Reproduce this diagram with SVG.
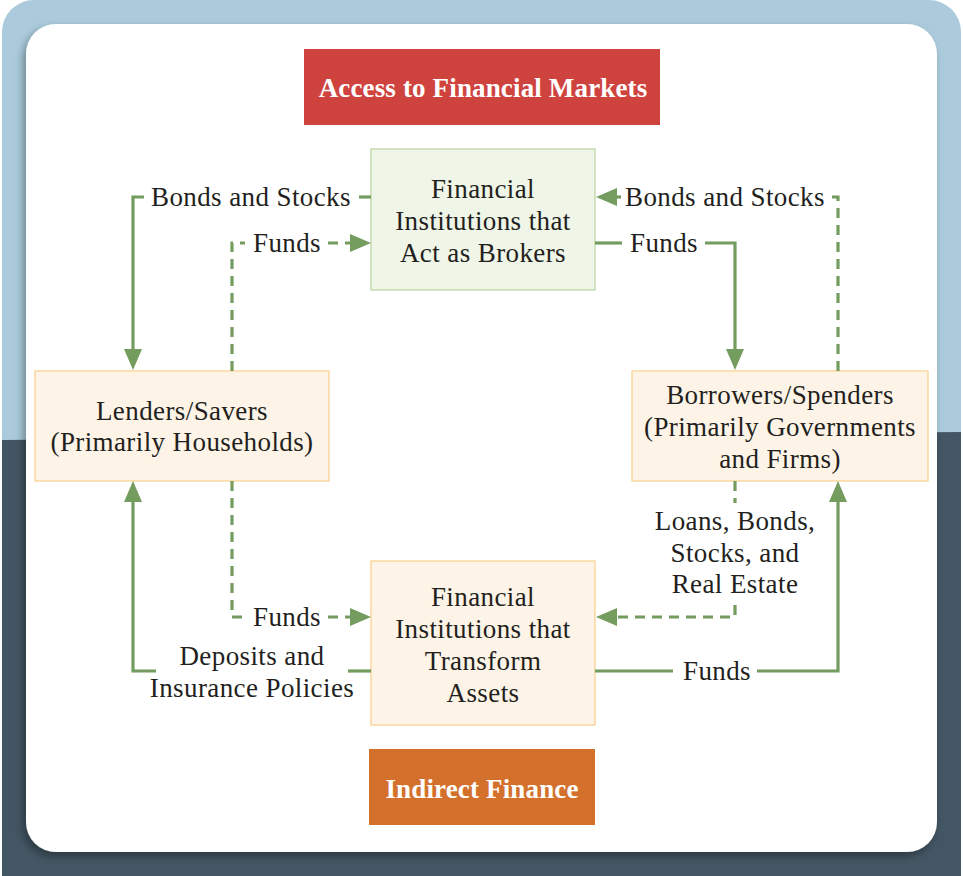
<svg xmlns="http://www.w3.org/2000/svg" width="963" height="876" viewBox="0 0 963 876">
<defs>
<style>
.t{font-family:"Liberation Serif","Times New Roman",serif;font-size:27px;fill:#231f20;letter-spacing:0.4px}
.h{font-family:"Liberation Serif","Times New Roman",serif;font-size:27px;font-weight:bold;fill:#ffffff;letter-spacing:0.15px}
.c{text-anchor:middle}
.ln{fill:none;stroke:#749c5e;stroke-width:3.2;stroke-linejoin:miter}
.d{stroke-dasharray:10 7}
.green{fill:#eff5e7;stroke:#b8d3a0;stroke-width:1.2}
.tan{fill:#fdf4e7;stroke:#f8cf8a;stroke-width:1.2}
</style>
<clipPath id="outer"><rect x="2" y="0" width="959" height="920" rx="32"/></clipPath>
<filter id="sh" x="-5%" y="-5%" width="110%" height="110%">
<feDropShadow dx="-3" dy="4" stdDeviation="4" flood-color="#000" flood-opacity="0.35"/>
</filter>
<marker id="ah" markerUnits="userSpaceOnUse" markerWidth="21" markerHeight="18" viewBox="0 0 21 18" refX="11" refY="9" orient="auto" overflow="visible">
<path d="M0,0 L21,9 L0,18 z" fill="#749c5e"/>
</marker>
</defs>
<rect width="963" height="876" fill="#ffffff"/>
<g clip-path="url(#outer)">
<rect x="0" y="0" width="963" height="900" fill="#abcbdc"/>
<polygon points="0,440 963,432 963,900 0,900" fill="#435663"/>
</g>
<rect x="26" y="24" width="911" height="828" rx="30" fill="#ffffff" filter="url(#sh)"/>

<g id="title">
<rect x="304" y="49" width="356" height="76" fill="#cf433e"/>
<text class="h c" x="483" y="97">Access to Financial Markets</text>
</g>
<g id="brokers">
<rect class="green" x="371" y="149" width="224" height="141"/>
<text class="t c" x="483" y="198">Financial</text>
<text class="t c" x="483" y="230">Institutions that</text>
<text class="t c" x="483" y="262">Act as Brokers</text>
</g>
<g id="lenders">
<rect class="tan" x="35" y="371" width="294" height="110"/>
<text class="t c" x="182" y="420">Lenders/Savers</text>
<text class="t c" x="182" y="451">(Primarily Households)</text>
</g>
<g id="borrowers">
<rect class="tan" x="632" y="371" width="296" height="110"/>
<text class="t c" x="780" y="404">Borrowers/Spenders</text>
<text class="t c" x="780" y="436">(Primarily Governments</text>
<text class="t c" x="780" y="468">and Firms)</text>
</g>
<g id="transform">
<rect class="tan" x="371" y="561" width="224" height="164"/>
<text class="t c" x="483" y="606">Financial</text>
<text class="t c" x="483" y="638">Institutions that</text>
<text class="t c" x="483" y="670">Transform</text>
<text class="t c" x="483" y="702">Assets</text>
</g>
<g id="indirect">
<rect x="369" y="749" width="226" height="76" fill="#d3702c"/>
<text class="h c" x="482" y="798">Indirect Finance</text>
</g>

<g id="connectors">
<path class="ln" d="M371 197 H359"/>
<path class="ln" d="M144 197 H133 V360" marker-end="url(#ah)"/>
<text class="t" x="151" y="206">Bonds and Stocks</text>

<path class="ln d" d="M232 371 V243 H245"/>
<path class="ln d" d="M328 243 H361" marker-end="url(#ah)"/>
<text class="t" x="253" y="252">Funds</text>

<path class="ln d" d="M838 371 V197 H831"/>
<path class="ln" d="M621 197 H606" marker-end="url(#ah)"/>
<text class="t" x="625" y="206">Bonds and Stocks</text>

<path class="ln" d="M595 243 H622"/>
<path class="ln" d="M705 243 H735 V360" marker-end="url(#ah)"/>
<text class="t" x="630" y="252">Funds</text>

<path class="ln d" d="M735 481 V503"/>
<path class="ln d" d="M735 605 V617 H606" marker-end="url(#ah)"/>
<text class="t c" x="735" y="530">Loans, Bonds,</text>
<text class="t c" x="735" y="562">Stocks, and</text>
<text class="t c" x="735" y="593">Real Estate</text>

<path class="ln" d="M595 671 H673"/>
<path class="ln" d="M757 671 H838 V491" marker-end="url(#ah)"/>
<text class="t" x="683" y="680">Funds</text>

<path class="ln d" d="M232 481 V617 H245"/>
<path class="ln d" d="M328 617 H361" marker-end="url(#ah)"/>
<text class="t" x="253" y="626">Funds</text>

<path class="ln" d="M371 671 H348"/>
<path class="ln" d="M156 671 H133 V491" marker-end="url(#ah)"/>
<text class="t c" x="252" y="665">Deposits and</text>
<text class="t c" x="252" y="697">Insurance Policies</text>
</g>
</svg>
